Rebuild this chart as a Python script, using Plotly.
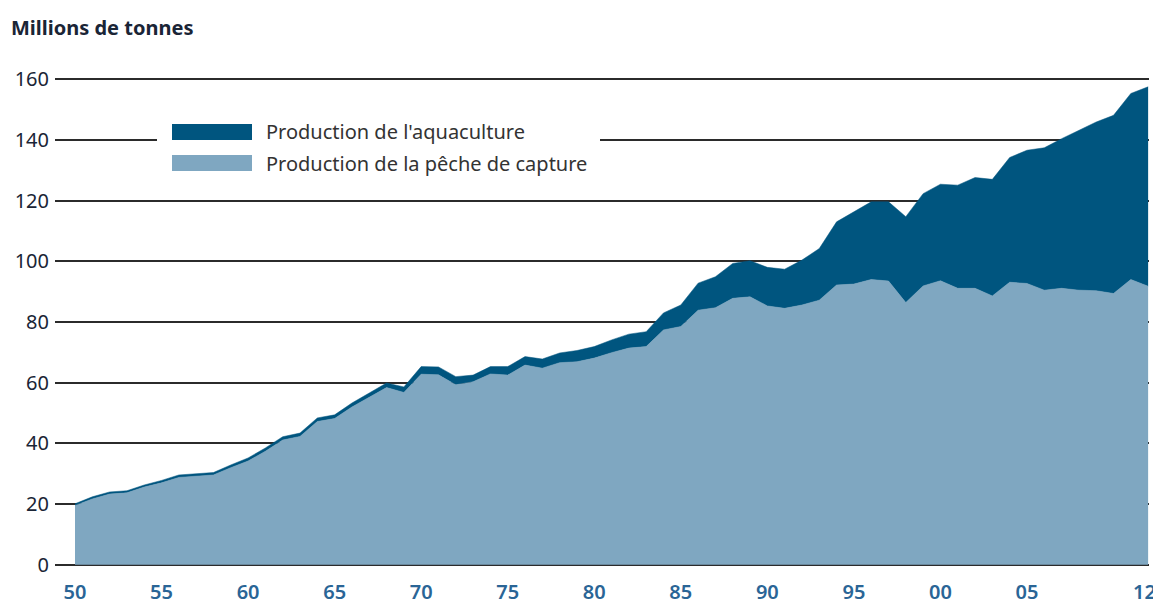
import plotly.graph_objects as go

years = list(range(1950, 2013))

# Capture fisheries production (million tonnes)
capture = [19.5, 21.7, 23.3, 23.7, 25.6, 27.0, 28.8, 29.2, 29.6, 32.0,
           34.2, 37.4, 41.1, 42.3, 47.2, 48.2, 52.0, 55.2, 58.4, 56.8,
           62.8, 62.6, 59.3, 60.3, 62.9, 62.5, 65.8, 64.8, 66.6, 66.9,
           68.1, 69.9, 71.4, 71.9, 77.4, 78.5, 83.9, 84.7, 87.8, 88.3,
           85.3, 84.5, 85.6, 87.2, 92.2, 92.5, 94.0, 93.5, 86.4, 91.9,
           93.6, 91.1, 91.1, 88.6, 93.1, 92.7, 90.5, 91.1, 90.5, 90.3,
           89.4, 94.0, 91.8]

# Aquaculture production (million tonnes)
aquaculture = [0.6, 0.7, 0.7, 0.7, 0.7, 0.8, 0.8, 0.8, 0.8, 0.9,
               1.0, 1.1, 1.1, 1.1, 1.2, 1.2, 1.3, 1.4, 1.5, 1.8,
               2.5, 2.6, 2.7, 2.2, 2.4, 2.8, 2.8, 3.0, 3.2, 3.7,
               3.8, 4.2, 4.6, 4.9, 5.6, 7.1, 8.9, 10.2, 11.5, 11.9,
               12.7, 12.9, 14.8, 17.0, 20.8, 23.8, 25.6, 26.1, 28.3, 30.4,
               31.8, 34.0, 36.5, 38.4, 41.1, 43.9, 46.9, 49.3, 52.7, 55.6,
               58.7, 61.3, 65.7]

x_tickvals = [1950, 1955, 1960, 1965, 1970, 1975, 1980, 1985, 1990, 1995, 2000, 2005, 2012]
x_ticktext = ["50", "55", "60", "65", "70", "75", "80", "85", "90", "95", "00", "05", "12"]
y_tickvals = [0, 20, 40, 60, 80, 100, 120, 140, 160]

legend_labels = ["Production de l'aquaculture", "Production de la pêche de capture"]

DARK = "#00557f"
LIGHT = "#7fa7c1"
FONT = "Noto Sans"
XCOL = "#2a6596"

fig = go.Figure()
fig.add_trace(go.Scatter(
    x=years, y=capture, mode="lines", stackgroup="one",
    line=dict(width=0.5, color=LIGHT), fillcolor=LIGHT,
    name=legend_labels[1], showlegend=False, hoverinfo="x+y"))
fig.add_trace(go.Scatter(
    x=years, y=aquaculture, mode="lines", stackgroup="one",
    line=dict(width=0.5, color=DARK), fillcolor=DARK,
    name=legend_labels[0], showlegend=False, hoverinfo="x+y"))

# page offset of the figure (default body margin)
OX, OY = 8, 8
W, H = 1153, 596
L, R, T, B = 47, 12, 70, 38
pw = W - L - R
ph = H - T - B

def px(xp):
    return (xp - OX - L) / pw

def py(yp):
    return 1 - (yp - OY - T) / ph

shapes = [
    dict(type="rect", xref="paper", yref="paper", layer="above",
         x0=px(157), x1=px(600), y0=py(184), y1=py(117),
         fillcolor="white", line=dict(width=0)),
    dict(type="rect", xref="paper", yref="paper", layer="above",
         x0=px(172), x1=px(252), y0=py(140), y1=py(124),
         fillcolor=DARK, line=dict(width=0)),
    dict(type="rect", xref="paper", yref="paper", layer="above",
         x0=px(172), x1=px(252), y0=py(171), y1=py(155),
         fillcolor=LIGHT, line=dict(width=0)),
]
annotations = [
    dict(xref="paper", yref="paper", x=px(264), y=py(132), text=legend_labels[0],
         showarrow=False, xanchor="left", yanchor="middle",
         font=dict(family=FONT, size=20, color="#333333")),
    dict(xref="paper", yref="paper", x=px(264), y=py(163), text=legend_labels[1],
         showarrow=False, xanchor="left", yanchor="middle",
         font=dict(family=FONT, size=20, color="#333333")),
    dict(xref="paper", yref="paper", x=px(9), y=py(28), text="<b>Millions de tonnes</b>",
         showarrow=False, xanchor="left", yanchor="middle",
         font=dict(family=FONT, size=20, color="#1a2536")),
    # last x label, nudged left so it stays inside the window
    dict(xref="x", yref="paper", x=x_tickvals[-1], y=py(591), text=x_ticktext[-1],
         showarrow=False, xanchor="center", yanchor="middle", xshift=-4,
         font=dict(family=FONT, size=20, color=XCOL, weight=600)),
]

fig.update_layout(
    width=W, height=H,
    margin=dict(l=L, r=R, t=T, b=B, autoexpand=False),
    paper_bgcolor="white", plot_bgcolor="white",
    showlegend=False,
    shapes=shapes, annotations=annotations,
    xaxis=dict(range=[1950 - 20 / 17.31, 2012.05], tickvals=x_tickvals[:-1],
               ticktext=x_ticktext[:-1],
               showgrid=False, zeroline=False, showline=False, ticks="",
               automargin=False, ticklabelstandoff=12, ticklabeloverflow="allow",
               tickfont=dict(family=FONT, size=20, color=XCOL, weight=600)),
    yaxis=dict(range=[-0.4, 160.4], tickvals=y_tickvals,
               showgrid=True, gridcolor="#2b2b2b", gridwidth=1.6,
               zeroline=False, showline=False, ticks="",
               automargin=False, ticklabelstandoff=5, ticklabeloverflow="allow",
               tickfont=dict(family=FONT, size=20, color="#1a2536")),
)

fig.write_html("out.html")
